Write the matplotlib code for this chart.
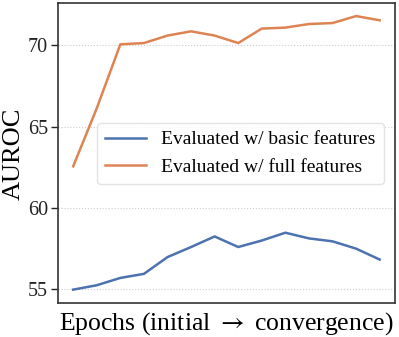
import matplotlib
matplotlib.use("Agg")
import matplotlib.pyplot as plt

plt.rcParams['font.family'] = ['Liberation Serif', 'DejaVu Serif']
plt.rcParams['mathtext.fontset'] = 'stix'

epochs = list(range(14))
basic = [54.98, 55.25, 55.7, 55.95, 56.98, 57.6, 58.25, 57.6, 58.0, 58.48, 58.13, 57.95, 57.5, 56.83]
full = [62.56, 66.13, 70.06, 70.14, 70.6, 70.86, 70.6, 70.14, 71.03, 71.09, 71.31, 71.37, 71.8, 71.54]
yticks = [55, 60, 65, 70]

fig, ax = plt.subplots(figsize=(3.99, 3.37), dpi=100)
ax.plot(epochs, basic, color='#4C72B0', lw=1.8, label='Evaluated w/ basic features')
ax.plot(epochs, full, color='#DD8452', lw=1.8, label='Evaluated w/ full features')

ax.set_xlim(-0.65, 13.65)
ax.set_ylim(54.14, 72.58)
ax.set_yticks(yticks)
ax.set_xticks([])
ax.yaxis.grid(True, linestyle=':', color='#cccccc', lw=0.8)
for s in ax.spines.values():
    s.set_color('#333333')
    s.set_linewidth(1.2)
ax.tick_params(axis='y', labelsize=14.5, length=5, width=1, pad=2, colors='#222222')
ax.set_ylabel('AUROC', fontsize=19, labelpad=2)
ax.set_xlabel(r'Epochs (initial $\rightarrow$ convergence)', fontsize=18.5, labelpad=5)
ax.legend(loc='center right', bbox_to_anchor=(0.995, 0.5), fontsize=14, frameon=True,
          fancybox=True, edgecolor='#dddddd', handlelength=2.1)

plt.subplots_adjust(left=0.145, right=0.99, top=0.99, bottom=0.1)
plt.savefig('out.png', dpi=100)
